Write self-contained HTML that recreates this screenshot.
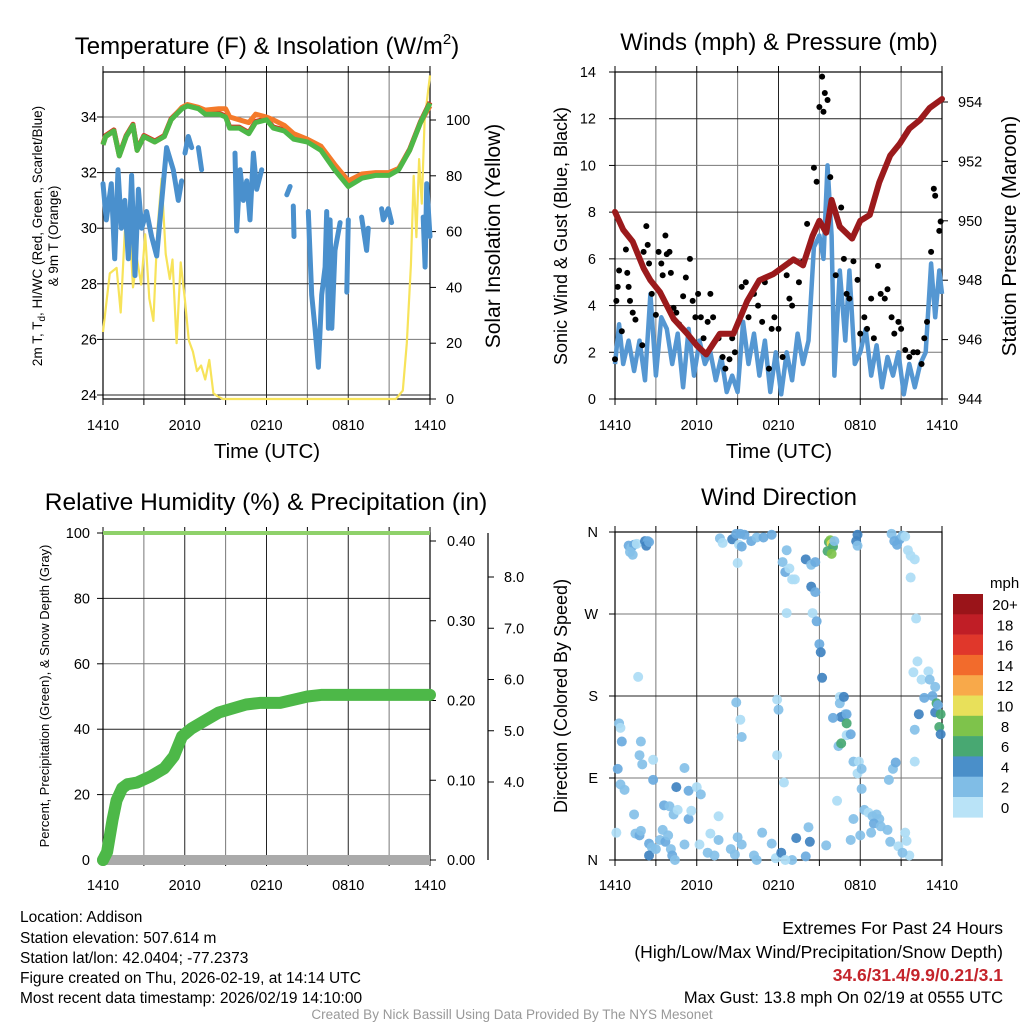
<!DOCTYPE html>
<html><head><meta charset="utf-8"><style>
html,body{margin:0;padding:0;background:#fff;}
svg{display:block;font-family:"Liberation Sans",Arial,sans-serif;}
</style></head><body>
<svg id="c" width="1024" height="1024" viewBox="0 0 1024 1024" xmlns="http://www.w3.org/2000/svg">
<g id="static" fill="#000">
<text x="267" y="54" font-size="24" text-anchor="middle">Temperature (F) &amp; Insolation (W/m<tspan dy="-10" font-size="15">2</tspan><tspan dy="10">)</tspan></text>
<text x="779" y="50" font-size="24" text-anchor="middle">Winds (mph) &amp; Pressure (mb)</text>
<text x="266" y="510" font-size="24.5" text-anchor="middle">Relative Humidity (%) &amp; Precipitation (in)</text>
<text x="779" y="505" font-size="24" text-anchor="middle">Wind Direction</text>
<text x="267" y="458" font-size="20.5" text-anchor="middle">Time (UTC)</text>
<text x="779" y="458" font-size="20.5" text-anchor="middle">Time (UTC)</text>
<g transform="translate(42,236) rotate(-90)" font-size="13.5" text-anchor="middle"><text x="0" y="0">2m T, T<tspan font-size="10" dy="3">d</tspan><tspan dy="-3">, HI/WC (Red, Green, Scarlet/Blue)</tspan></text><text x="0" y="16">&amp; 9m T (Orange)</text></g>
<text transform="translate(500,236) rotate(-90)" font-size="21" text-anchor="middle">Solar Insolation (Yellow)</text>
<text transform="translate(567,236) rotate(-90)" font-size="18" text-anchor="middle">Sonic Wind &amp; Gust (Blue, Black)</text>
<text transform="translate(1016,236) rotate(-90)" font-size="20.5" text-anchor="middle">Station Pressure (Maroon)</text>
<text transform="translate(49,696) rotate(-90)" font-size="13" text-anchor="middle">Percent, Precipitation (Green), &amp; Snow Depth (Gray)</text>
<text transform="translate(567,696) rotate(-90)" font-size="18" text-anchor="middle">Direction (Colored By Speed)</text>
<text x="990" y="588" font-size="15">mph</text>
<g font-size="15.5">
<text x="20" y="922">Location: Addison</text>
<text x="20" y="943">Station elevation: 507.614 m</text>
<text x="20" y="963">Station lat/lon: 42.0404; -77.2373</text>
<text x="20" y="983">Figure created on Thu, 2026-02-19, at 14:14 UTC</text>
<text x="20" y="1003">Most recent data timestamp: 2026/02/19 14:10:00</text>
</g>
<g text-anchor="end">
<text x="1003" y="934" font-size="17.5">Extremes For Past 24 Hours</text>
<text x="1003" y="958" font-size="17.5">(High/Low/Max Wind/Precipitation/Snow Depth)</text>
<text x="1003" y="981" font-size="17.5" fill="#c4242b" font-weight="bold">34.6/31.4/9.9/0.21/3.1</text>
<text x="1003" y="1003" font-size="16.5">Max Gust: 13.8 mph On 02/19 at 0555 UTC</text>
</g>
<text x="512" y="1019" font-size="13.5" fill="#999" text-anchor="middle">Created By Nick Bassill Using Data Provided By The NYS Mesonet</text>
</g>
</svg>
<script>
// ---------- data ----------
const timeTickLabels = ["1410","2010","0210","0810","1410"];
const tempHours = [0,0.2,0.8,1.2,1.7,2.2,2.5,3,3.8,4.5,5.0,5.8,6.2,7,7.5,8.5,9.0,9.3,10,10.7,11.2,12,12.5,13.3,14,15,16,17,18,19,20,21,21.7,22.5,23.3,24];
const tempGreen = [33.0,33.3,33.5,32.6,33.3,33.7,32.8,33.3,33.1,33.3,33.9,34.3,34.4,34.3,34.1,34.1,34.0,33.6,33.6,33.4,33.8,33.9,33.6,33.5,33.2,33.1,32.8,32.1,31.5,31.8,31.9,31.9,32.1,32.8,33.8,34.5];
const temp9m = [33.0,33.3,33.5,32.6,33.3,33.7,32.8,33.3,33.1,33.3,33.9,34.35,34.45,34.35,34.25,34.3,34.3,34.0,33.9,33.8,34.1,34.0,33.9,33.7,33.4,33.2,32.95,32.3,31.7,31.95,32.0,32.0,32.15,32.8,33.8,34.4];
const chillHours = [0,0.24,0.61,0.86,1.1,1.35,1.6,1.86,2.1,2.35,2.6,2.84,3.2,3.57,3.94,4.18,4.67,5.16,5.53,5.77,5.9,6.02,6.26,6.51,6.7,7.0,7.24,7.5,9.69,9.81,10.06,10.3,10.55,10.79,11.04,11.28,11.65,12,13.49,13.73,13.85,13.97,14.02,14.1,14.22,14.4,14.71,14.9,15.07,15.32,15.56,15.81,16.05,16.3,16.42,16.54,16.67,16.79,17.03,17.4,17.6,17.89,18.0,18.5,18.98,19.35,19.47,19.8,20.45,20.57,20.94,21.18,22,23.5,23.64,23.76,24];
const chillValues = [31.6,30.3,31.6,28.9,32.1,30.0,31.0,28.9,31.9,28.3,31.4,30.0,30.6,29.7,29.0,30.3,32.9,32.1,31.0,31.7,null,32.7,33.3,32.9,null,32.9,32.1,null,32.7,29.9,32.1,31.0,31.7,30.3,32.7,31.4,32.1,null,31.2,31.5,null,30.8,29.7,null,31.7,null,31.2,null,30.6,27.6,26.4,25.0,27.6,28.6,30.6,26.4,30.3,26.4,29.2,30.2,null,27.7,30.3,null,30.4,29.2,30.0,null,30.7,30.3,30.7,30.2,null,30.4,28.6,31.6,29.7];
const solarHours = [0,0.5,1.0,1.3,1.6,1.9,2.2,2.5,2.8,3.1,3.4,3.7,4.0,4.3,4.6,4.9,5.1,5.4,5.7,6.0,6.3,6.6,6.9,7.2,7.5,7.8,8.1,8.4,8.8,9.2,21.0,21.5,22.0,22.3,22.6,22.8,23.0,23.2,23.4,23.6,23.8,24];
const solarValues = [24,45,47,31,60,66,40,50,41,59,36,28,61,79,52,43,50,20,49,36,21,17,10,12,7,14,2,1,0,0,0,0,3,20,48,80,58,86,70,100,108,116];
const windHours = [0,0.3,0.6,1,1.4,1.8,2.2,2.6,3.0,3.4,3.8,4.2,4.6,5.0,5.4,5.8,6.2,6.6,7.0,7.4,7.8,8.2,8.6,9.0,9.4,9.8,10.2,10.6,11.0,11.4,11.8,12.2,12.6,13.0,13.4,13.8,14.2,14.6,15.0,15.3,15.6,15.9,16.1,16.5,16.9,17.2,17.6,18.0,18.4,18.8,19.2,19.6,20.0,20.4,20.8,21.2,21.6,22.0,22.4,22.8,23.2,23.5,23.8,24];
const windSpeed = [1.5,3.2,1.5,2.5,1.2,2.5,0.8,4.5,1.0,3.5,3.0,1.5,2.8,0.5,3.0,1.0,2.5,1.5,2.0,0.8,1.8,0.3,1.0,0.3,3.3,1.5,2.8,1.0,2.5,0.3,2.0,0.2,2.0,0.8,2.8,1.5,2.5,6.5,7.0,6.0,10.0,7.0,1.0,5.5,2.5,5.5,1.5,2.0,3.0,1.0,2.3,0.5,1.8,1.0,2.0,0.2,1.5,0.5,1.5,2.0,5.8,3.5,5.5,4.5];
const gustHours = [0,0.1,0.2,0.3,0.5,0.8,0.9,1.0,1.1,1.3,1.5,2.0,2.1,2.3,2.4,2.5,2.7,3.0,3.2,3.4,3.5,3.7,3.8,4.0,4.1,4.3,4.5,4.7,5.0,5.2,5.5,5.7,5.9,6.1,6.3,6.5,6.8,7.0,7.2,7.6,7.9,8.1,8.4,8.6,8.8,9.3,9.6,9.8,10.2,10.5,10.8,11.0,11.3,11.5,11.7,12.0,12.3,12.6,12.8,13.0,13.3,13.5,13.8,14.1,14.6,14.8,15.0,15.2,15.3,15.4,15.6,15.8,16.2,16.6,16.8,17.0,17.2,17.5,17.8,18.0,18.3,18.5,18.8,19.0,19.3,19.5,19.8,20.0,20.3,20.5,20.8,21.0,21.3,21.6,21.9,22.2,22.5,22.7,22.9,23.2,23.4,23.5,23.8,23.9];
const gustSpeed = [1.7,4.2,4.8,5.5,2.9,6.4,5.4,4.8,4.2,3.7,3.4,2.3,6.3,7.4,6.6,5.8,4.5,3.6,6.3,5.8,5.3,7.0,6.2,6.3,5.4,3.9,3.7,3.2,4.4,5.2,6.0,4.2,3.5,4.5,3.5,2.6,3.3,4.5,3.5,2.6,1.8,1.3,1.7,2.6,2.0,4.8,5.0,3.5,4.5,4.0,3.3,5.0,1.3,3.0,3.5,3.0,1.8,5.3,4.3,4.0,5.9,5.0,5.9,7.5,9.9,9.3,12.5,13.8,12.3,13.1,12.8,9.5,5.3,8.2,6.0,4.5,4.3,5.9,5.1,2.8,3.5,3.0,4.3,2.6,5.7,4.5,4.3,4.7,3.5,2.8,3.3,3.0,2.1,1.8,2.0,2.0,1.5,2.6,3.3,6.3,9.0,8.7,7.2,7.6];
const presHours = [0,0.6,1.3,2.1,2.6,3.3,4.3,5.3,6.0,6.7,7.7,8.7,9.7,10.6,11.6,13.1,13.8,14.5,15.0,15.5,15.9,16.5,17.4,18.0,18.7,19.4,20.2,20.9,21.6,22.4,23.1,24];
const presValues = [950.3,949.7,949.3,948.4,948.0,947.6,946.7,946.2,945.8,945.5,946.2,946.2,947.3,948.0,948.2,948.7,948.5,949.5,950.0,949.6,950.7,949.8,949.4,950.0,950.2,951.3,952.2,952.6,953.1,953.4,953.8,954.1];
const precipHours = [0,0.3,0.7,1.0,1.4,1.8,2.5,3.5,4.5,5.2,5.8,6.5,7.5,8.5,9.5,10.5,11.5,13,14.5,15,16,24];
const precipValues = [0,0.01,0.05,0.075,0.09,0.095,0.097,0.105,0.115,0.13,0.155,0.165,0.175,0.185,0.19,0.195,0.197,0.197,0.203,0.205,0.207,0.207];
const rhHours = [0,24];
const rhValues = [100,100];
const snowHours = [0,24];
const snowValues = [0,0];
const dirHours = [1.0,1.2,1.4,1.1,1.3,1.6,2.2,2.4,2.3,2.5,0.3,0.4,0.5,0.2,0.4,0.7,0.1,1.9,1.8,2.0,2.8,2.8,1.7,1.4,1.5,1.8,1.9,2.5,2.7,2.5,3.0,3.3,3.5,3.7,3.9,4.1,4.2,4.4,3.6,4.0,4.3,4.6,5.1,5.4,5.6,4.5,5.4,5.1,6.0,6.3,6.2,6.8,7.3,7.6,7.0,7.6,8.5,8.8,9.0,9.3,10.2,10.4,10.8,11.5,11.8,12.4,12.2,13.3,14.2,8.9,9.2,9.3,11.9,12.0,11.9,7.7,8.6,8.9,9.2,9.5,10.0,10.4,10.9,11.5,9.1,9.3,7.9,9.0,12.3,12.5,12.6,12.8,13.0,13.2,14.0,14.4,14.7,14.4,14.7,14.5,12.6,14.8,15.0,15.1,15.2,15.7,15.8,15.9,16.0,15.6,15.9,16.1,17.8,17.7,17.8,20.3,20.5,20.7,20.9,21.1,21.3,21.5,21.7,22.0,21.7,22.1,16.5,16.5,16.8,16.9,16.6,17.0,17.3,17.0,16.4,16.0,17.0,16.6,17.5,17.9,21.9,22.2,22.5,22.7,23.0,23.1,23.3,23.5,23.6,23.5,23.7,23.9,23.8,23.9,22.3,22.0,22.0,17.8,18.1,18.1,18.3,18.6,18.9,19.2,19.4,19.0,18.8,19.5,20.0,20.2,18.0,17.5,17.3,20.1,20.4,20.6,21.3,21.4,21.6,20.8,21.1,16.3,15.5,14.3,14.0,13.0,12.5];
const dirDegrees = [345,343,346,338,335,347,350,350,345,349,150,145,130,100,83,77,30,130,115,105,110,88,201,50,29,27,32,18,14,5,12,22,33,20,27,12,5,0,60,59,50,55,17,45,54,80,76,101,80,72,17,8,5,22,29,48,12,6,25,17,5,0,30,18,2,85,8,24,36,173,154,135,176,165,115,353,352,358,358,357,350,354,354,357,346,344,348,326,327,316,340,320,308,308,330,324,327,300,294,271,271,262,237,228,200,349,351,347,344,339,336,350,357,350,345,358,350,346,352,356,355,340,334,330,310,265,179,172,179,160,157,137,138,160,125,156,150,128,108,108,206,218,198,178,207,198,180,190,172,162,170,160,146,138,160,143,108,95,100,78,55,52,48,50,45,40,30,37,33,20,27,45,22,88,100,107,30,21,5,15,8,65,16,20,4,0,0];
const dirSpeed = [3,2,3,2,2,1,4,3,4,3,2,1,3,3,2,2,1,2,2,2,1,3,1,2,2,3,2,3,2,4,2,2,2,3,2,2,3,2,3,2,2,1,2,3,1,4,3,2,1,2,1,2,2,2,1,1,2,2,2,2,2,2,2,2,1,1,4,4,2,2,1,2,1,2,1,2,4,3,3,3,3,2,3,3,1,3,1,1,2,3,2,1,1,1,4,2,3,4,3,1,1,3,3,4,4,6,8,10,6,6,8,2,4,4,2,2,3,3,3,2,1,1,1,1,1,1,1,2,4,2,4,1,3,3,2,3,6,6,2,1,1,1,1,3,1,2,3,2,6,4,3,6,6,4,4,2,1,1,2,2,2,1,2,2,2,3,2,2,2,2,2,2,2,2,2,3,1,1,1,1,2,1,2,4,3,2,1,1,2];
const colorbarLabels = ["20+","18","16","14","12","10","8","6","4","2","0"];
const colorbarColors = ["#9a1419","#c01e26","#e0372b","#f26b2c","#f8a94a","#e8e05a","#7ec34b","#48a872","#4a8fc9","#80bde6","#b9e3f7"];
const speedColors = {1:"#acdcf5",2:"#84c0e8",3:"#6aaade",4:"#3f82c0",6:"#48a872",8:"#7ec34b",10:"#e8e05a"};

// ---------- helpers ----------
const NS = "http://www.w3.org/2000/svg";
const svg = document.getElementById('c');
function mk(tag, attrs, parent){ const e=document.createElementNS(NS,tag); for(const k in attrs) e.setAttribute(k,attrs[k]); (parent||svg).appendChild(e); return e; }
function linScale(d0,d1,r0,r1){ return v => r0+(v-d0)*(r1-r0)/(d1-d0); }
function pathFrom(xs, ys, fx, fy){ let d="", pen=false; for(let i=0;i<xs.length;i++){ if(ys[i]===null){pen=false;continue;} d+=(pen?"L":"M")+fx(xs[i]).toFixed(1)+","+fy(ys[i]).toFixed(1); pen=true;} return d; }

function panelFrame(name, x0, x1, y0, y1, hLines, xLabelY){
  const g = mk('g',{});
  
  
  const fx = linScale(0,24,x0,x1);
  for(let h=0; h<=24; h+=3){
    const gl = mk('line',{x1:fx(h),x2:fx(h),y1:y0,y2:y1,stroke:(h%6===3?'#777':'#222'),'stroke-width':1},g);
    
    
    const tk = mk('line',{x1:fx(h),x2:fx(h),y1:y0-6,y2:y0,stroke:'#000'},g);
    
    
    const tb = mk('line',{x1:fx(h),x2:fx(h),y1:y1,y2:y1+6,stroke:'#000'},g);
    
    
  }
  hLines.forEach((y,i)=>{
    const hl = mk('line',{x1:x0,x2:x1,y1:y,y2:y,stroke:(i%2?'#777':'#222'),'stroke-width':1},g);
    
    
  });
  timeTickLabels.forEach((t,i)=>{
    const tx = mk('text',{x:fx(i*6),y:xLabelY,'font-size':14.5,'text-anchor':'middle'});
    tx.textContent = t;
    
    
  });
  const fr = mk('rect',{x:x0,y:y0,width:x1-x0,height:y1-y0,fill:'none',stroke:'#000','stroke-width':1.2});
  
  
  return fx;
}
function yTicks(name, vals, fy, x, side, fmt, axisX){
  vals.forEach(v=>{
    const y=fy(v);
    const tl = mk('line',{x1:axisX,x2:axisX+(side==='left'?-6:6),y1:y,y2:y,stroke:'#000'});
    
    
    const t = mk('text',{x:x,y:y+5,'font-size':14.5,'text-anchor':(side==='left'?'end':'start')});
    t.textContent = fmt(v);
    
    
  });
}

// ---------- Panel 1: temperature ----------
(function(){
  const x0=103,x1=430,y0=72,y1=399;
  const fyT = linScale(24,34,395,117);
  const fyS = linScale(0,100,399,120);
  const temps=[24,26,28,30,32,34];
  const fx = panelFrame('temperature', x0,x1,y0,y1, temps.map(fyT), 430);
  yTicks('temperature-y', temps, fyT, 97, 'left', v=>String(v), x0);
  yTicks('insolation-y', [0,20,40,60,80,100], fyS, 446, 'right', v=>String(v), x1);
  const sol = mk('path',{d:pathFrom(solarHours,solarValues,fx,fyS),fill:'none',stroke:'#f7e35a','stroke-width':2.2,'stroke-linejoin':'round'});
  
  
  const wc = mk('path',{d:pathFrom(chillHours,chillValues,fx,fyT),fill:'none',stroke:'#4a90cd','stroke-width':5,'stroke-linejoin':'round','stroke-linecap':'round'});
  
  
  const red = mk('path',{d:pathFrom(tempHours,tempGreen,fx,v=>fyT(v)-1),fill:'none',stroke:'#d7301f','stroke-width':5,'stroke-linejoin':'round'});
  
  
  const org = mk('path',{d:pathFrom(tempHours,temp9m,fx,fyT),fill:'none',stroke:'#f47a2a','stroke-width':5,'stroke-linejoin':'round'});
  
  
  const grn = mk('path',{d:pathFrom(tempHours,tempGreen,fx,fyT),fill:'none',stroke:'#4db848','stroke-width':5,'stroke-linejoin':'round'});
  
  
})();

// ---------- Panel 2: wind & pressure ----------
(function(){
  const x0=615,x1=942,y0=72,y1=399;
  const fyW = linScale(0,14,399,72);
  const fyP = linScale(944,954,399,102);
  const ws=[0,2,4,6,8,10,12,14];
  const fx = panelFrame('wind', x0,x1,y0,y1, ws.map(fyW), 430);
  yTicks('wind-y', ws, fyW, 596, 'left', v=>String(v), x0);
  yTicks('pressure-y', [944,946,948,950,952,954], fyP, 958, 'right', v=>String(v), x1);
  const wl = mk('path',{d:pathFrom(windHours,windSpeed,fx,fyW),fill:'none',stroke:'#5597d2','stroke-width':4.5,'stroke-linejoin':'round'});
  
  
  gustHours.forEach((h,i)=>{
    const c = mk('circle',{cx:fx(h),cy:fyW(gustSpeed[i]),r:3,fill:'#000'});
    
    
  });
  const pl = mk('path',{d:pathFrom(presHours,presValues,fx,fyP),fill:'none',stroke:'#9b1a1c','stroke-width':6,'stroke-linejoin':'round','stroke-linecap':'round'});
  
  
})();

// ---------- Panel 3: RH & precip ----------
(function(){
  const x0=103,x1=430,y0=533,y1=860;
  const fyR = linScale(0,100,860,533);
  const fyPr = linScale(0,0.4,860,541);
  const fySn = linScale(4,8,782,577);
  const rs=[0,20,40,60,80,100];
  const fx = panelFrame('humidity', x0,x1,y0,y1, rs.map(fyR), 890);
  yTicks('humidity-y', rs, fyR, 90, 'left', v=>String(v), x0);
  yTicks('precip-y', [0,0.1,0.2,0.3,0.4], fyPr, 447, 'right', v=>v.toFixed(2), x1);
  const ax = mk('line',{x1:488,x2:488,y1:533,y2:860,stroke:'#000','stroke-width':1.2});
  
  
  yTicks('snow-depth-y', [4,5,6,7,8], fySn, 504, 'right', v=>v.toFixed(1), 488);
  const sn = mk('path',{d:pathFrom(snowHours,snowValues,fx,fyR),fill:'none',stroke:'#aaa','stroke-width':10});
  
  
  const sc = mk('circle',{cx:fx(0),cy:fyR(0),r:6,fill:'#999'});
  
  
  const rh = mk('path',{d:pathFrom(rhHours,rhValues,fx,fyR),fill:'none',stroke:'#8fd16a','stroke-width':4});
  
  
  const pr = mk('path',{d:pathFrom(precipHours,precipValues,fx,fyPr),fill:'none',stroke:'#4db848','stroke-width':12,'stroke-linejoin':'round','stroke-linecap':'round'});
  
  
})();

// ---------- Panel 4: wind direction ----------
(function(){
  const x0=615,x1=942,y0=532,y1=860;
  const fyD = linScale(0,360,860,532);
  const ds=[0,90,180,270,360];
  const fx = panelFrame('direction', x0,x1,y0,y1, ds.map(fyD), 890);
  const dl=['N','E','S','W','N'];
  yTicks('direction-y', ds, fyD, 598, 'left', v=>dl[v/90], x0);
  dirHours.forEach((h,i)=>{
    const c = mk('circle',{cx:fx(h),cy:fyD(dirDegrees[i]),r:5,fill:speedColors[dirSpeed[i]]||'#84c0e8','fill-opacity':0.92});
    
    
  });
  colorbarLabels.forEach((lab,i)=>{
    const y=594+i*20.3;
    const r = mk('rect',{x:953,y:y,width:30,height:20.6,fill:colorbarColors[i]});
    
    
    const t = mk('text',{x:1005,y:y+16,'font-size':15,'text-anchor':'middle'});
    t.textContent = lab;
    
    
  });
})();
</script>
</body></html>
